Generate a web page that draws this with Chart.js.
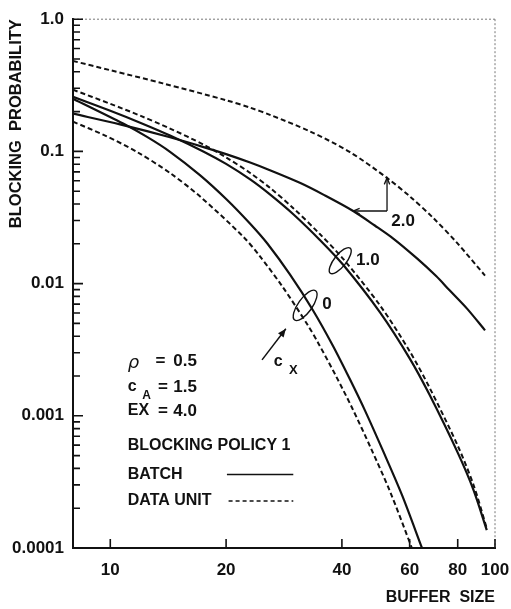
<!DOCTYPE html>
<html>
<head>
<meta charset="utf-8">
<script src="https://cdn.jsdelivr.net/npm/chart.js@4.4.1/dist/chart.umd.min.js"></script>
<style>
  html, body { margin: 0; padding: 0; background: #fff; }
  #wrap { width: 511px; height: 609px; }
</style>
</head>
<body>
<div id="wrap"><canvas id="chart"></canvas></div>
<script>
const xTicks = [10, 20, 40, 60, 80, 100];
const yTicks = [0.0001, 0.001, 0.01, 0.1, 1];
const yTickLabels = ['0.0001', '0.001', '0.01', '0.1', '1.0'];

// cx = 2.0
const unit20X = [8, 10, 13.7, 20, 23.1, 26, 33.1, 42, 52.4, 60.2, 69, 79.7, 94.2];
const unit20Y = [0.483, 0.4115, 0.327, 0.2439, 0.2142, 0.1891, 0.1414, 0.0986, 0.063, 0.0454, 0.0315, 0.0203, 0.0115];
const batch20X = [8, 10.6, 14.3, 17.4, 20, 23.1, 26, 31.2, 36.1, 42.8, 48.7, 54.4, 62.7, 70.3, 76.2, 84.7, 94.2];
const batch20Y = [0.193, 0.16, 0.1279, 0.1083, 0.0953, 0.0823, 0.072, 0.0576, 0.0465, 0.0354, 0.0275, 0.0219, 0.0155, 0.0114, 0.0089, 0.00644, 0.00443];

// cx = 1.0
const unit10X = [8, 10, 12, 14.3, 17.5, 20, 23.1, 26, 30, 35, 40.3, 50.3, 60, 67.6, 80.1, 88, 95.2];
const unit10Y = [0.2925, 0.2292, 0.1856, 0.1489, 0.1123, 0.09, 0.0687, 0.053, 0.0369, 0.0238, 0.01539, 0.00681, 0.00308, 0.00163, 0.000589, 0.000298, 0.000141];
const batch10X = [8, 10, 12, 14.3, 17.5, 20, 23.1, 26, 30, 35, 40.3, 50.3, 60, 67.6, 80.1, 88, 95.2];
const batch10Y = [0.259, 0.203, 0.1643, 0.1319, 0.0995, 0.0804, 0.0614, 0.0473, 0.0332, 0.0215, 0.01387, 0.00603, 0.00272, 0.00144, 0.000522, 0.000273, 0.0001365];

// cx = 0
const unit0X = [8, 9.7, 11.75, 14.3, 17.1, 22.2, 24.5, 28.1, 32.5, 34.7, 38.6, 42.5, 47.6, 53.4, 60.8];
const unit0Y = [0.1679, 0.1317, 0.0988, 0.0686, 0.0457, 0.02253, 0.01607, 0.00938, 0.00493, 0.00356, 0.002, 0.00115, 0.000567, 0.000266, 0.0001];
const batch0X = [8, 10.8, 12.46, 14.3, 17.1, 20.1, 23.1, 25.6, 29.3, 33.6, 37.9, 42, 46, 51.2, 57.4, 64.6];
const batch0Y = [0.2503, 0.1624, 0.1287, 0.0993, 0.0662, 0.0431, 0.02835, 0.0201, 0.01173, 0.00632, 0.00339, 0.00188, 0.001085, 0.00054, 0.000249, 0.0001];

const FONT = '"Liberation Sans", Arial, sans-serif';
const INK = '#111';

function pts(xs, ys) {
  return xs.map((x, i) => ({x: x, y: ys[i]}));
}

function line(xs, ys, dashed) {
  return {
    data: pts(xs, ys),
    borderColor: INK,
    borderWidth: dashed ? 2 : 2.2,
    borderDash: dashed ? [5, 3] : [],
    pointRadius: 0,
    fill: false,
    tension: 0.3
  };
}

function arrow(ctx, x1, y1, x2, y2, size, filled) {
  const a = Math.atan2(y2 - y1, x2 - x1);
  ctx.beginPath();
  ctx.moveTo(x1, y1);
  ctx.lineTo(x2, y2);
  ctx.stroke();
  ctx.beginPath();
  ctx.moveTo(x2 - size * Math.cos(a - 0.4), y2 - size * Math.sin(a - 0.4));
  ctx.lineTo(x2, y2);
  ctx.lineTo(x2 - size * Math.cos(a + 0.4), y2 - size * Math.sin(a + 0.4));
  if (filled) { ctx.closePath(); ctx.fill(); } else ctx.stroke();
}

// ticks inside the frame, the labels and the callouts
const notes = {
  id: 'notes',
  afterDraw(chart) {
    const {ctx, chartArea: a, scales: {x, y}} = chart;
    const at = (xv, yv) => [x.getPixelForValue(xv), y.getPixelForValue(yv)];
    ctx.save();
    ctx.strokeStyle = INK;
    ctx.fillStyle = INK;

    // faint top and right edges
    ctx.lineWidth = 1;
    ctx.setLineDash([2, 2]);
    ctx.strokeStyle = '#777';
    ctx.beginPath();
    ctx.moveTo(a.left, a.top); ctx.lineTo(a.right, a.top);
    ctx.moveTo(a.right, a.top); ctx.lineTo(a.right, a.bottom);
    ctx.stroke();
    ctx.setLineDash([]);
    ctx.strokeStyle = INK;

    // y ticks, decades plus 2..9
    ctx.lineWidth = 1.6;
    ctx.beginPath();
    for (let d = -4; d <= 0; d++) {
      for (let m = 1; m <= 9; m++) {
        const v = m * Math.pow(10, d);
        if (v > 1.0001) break;
        const py = y.getPixelForValue(v);
        ctx.moveTo(a.left, py);
        ctx.lineTo(a.left + (m === 1 ? 10 : 7), py);
      }
    }
    xTicks.forEach(v => {
      const px = x.getPixelForValue(v);
      ctx.moveTo(px, a.bottom);
      ctx.lineTo(px, a.bottom - 9);
    });
    ctx.stroke();

    // cx = 2.0 bracket
    ctx.lineWidth = 1.3;
    const p1 = at(42.8, 0.0354), p2 = at(52.4, 0.0354), p3 = at(52.4, 0.063);
    arrow(ctx, p2[0], p2[1], p1[0], p1[1], 7, false);
    arrow(ctx, p2[0], p2[1], p3[0], p3[1], 7, false);

    // ellipses round the 1.0 and 0 pairs
    ctx.lineWidth = 1.4;
    let e = at(39.6, 0.0149);
    ctx.beginPath(); ctx.ellipse(e[0], e[1], 16, 6, -0.9, 0, Math.PI * 2); ctx.stroke();
    e = at(32.1, 0.00684);
    ctx.beginPath(); ctx.ellipse(e[0], e[1], 18, 7, -0.95, 0, Math.PI * 2); ctx.stroke();

    // cx arrow
    ctx.lineWidth = 1.5;
    const t = at(24.8, 0.00265), h = at(28.6, 0.00455);
    arrow(ctx, t[0], t[1], h[0], h[1], 9, true);

    ctx.textBaseline = 'middle';
    ctx.textAlign = 'center';
    ctx.font = 'bold 17px ' + FONT;
    let p = at(57.7, 0.0297); ctx.fillText('2.0', p[0], p[1]);
    p = at(46.7, 0.0149); ctx.fillText('1.0', p[0], p[1]);
    p = at(36.6, 0.007); ctx.fillText('0', p[0], p[1]);
    ctx.font = 'bold 16px ' + FONT;
    p = at(27.3, 0.00255); ctx.fillText('c', p[0], p[1]);
    ctx.font = 'bold 13px ' + FONT;
    p = at(29.9, 0.00222); ctx.fillText('X', p[0], p[1]);

    // parameter block
    ctx.textAlign = 'left';
    ctx.font = 'italic 18px "DejaVu Sans", sans-serif';
    p = at(11.1, 0.0026); ctx.fillText('\u03c1', p[0], p[1] + 2);
    ctx.font = 'bold 16px ' + FONT;
    p = at(11.1, 0.00165); ctx.fillText('c', p[0], p[1]);
    p = at(11.1, 0.00109); ctx.fillText('EX', p[0], p[1]);
    ctx.font = 'bold 12px ' + FONT;
    p = at(12.1, 0.00143); ctx.fillText('A', p[0], p[1]);
    ctx.font = 'bold 17px ' + FONT;
    p = at(13.1, 0.0026); ctx.fillText('=', p[0], p[1]);
    p = at(13.3, 0.00165); ctx.fillText('=', p[0], p[1]);
    p = at(13.3, 0.00109); ctx.fillText('=', p[0], p[1]);
    ctx.textAlign = 'right';
    p = at(16.8, 0.0026); ctx.fillText('0.5', p[0], p[1]);
    p = at(16.8, 0.00165); ctx.fillText('1.5', p[0], p[1]);
    p = at(16.8, 0.00109); ctx.fillText('4.0', p[0], p[1]);

    // legend
    ctx.textAlign = 'left';
    ctx.font = 'bold 16px ' + FONT;
    p = at(11.1, 0.0006); ctx.fillText('BLOCKING POLICY 1', p[0], p[1]);
    p = at(11.1, 0.00036); ctx.fillText('BATCH', p[0], p[1]);
    p = at(11.1, 0.000227); ctx.fillText('DATA UNIT', p[0], p[1]);
    const l1 = at(20.1, 0.00036), l2 = at(29.9, 0.00036);
    ctx.lineWidth = 1.6;
    ctx.beginPath(); ctx.moveTo(l1[0], l1[1]); ctx.lineTo(l2[0], l2[1]); ctx.stroke();
    const d1 = at(20.3, 0.000227), d2 = at(29.9, 0.000227);
    ctx.setLineDash([4, 3]);
    ctx.beginPath(); ctx.moveTo(d1[0], d1[1]); ctx.lineTo(d2[0], d2[1]); ctx.stroke();
    ctx.restore();
  }
};

const ctx = document.getElementById('chart').getContext('2d');

const chart = new Chart(ctx, {
  type: 'line',
  data: {
    datasets: [
      line(unit20X, unit20Y, true),
      line(batch20X, batch20Y, false),
      line(unit10X, unit10Y, true),
      line(batch10X, batch10Y, false),
      line(unit0X, unit0Y, true),
      line(batch0X, batch0Y, false)
    ]
  },
  options: {
    responsive: true,
    maintainAspectRatio: false,
    animation: false,
    layout: { padding: { top: 17, right: 16, bottom: 0, left: 0 } },
    plugins: { legend: { display: false }, tooltip: { enabled: false } },
    scales: {
      x: {
        type: 'logarithmic',
        min: 8,
        max: 100,
        afterBuildTicks: s => { s.ticks = xTicks.map(v => ({value: v})); },
        afterFit: s => { s.height = 61; s.paddingLeft = 0; s.paddingRight = 0; },
        grid: { display: false, drawTicks: false },
        border: { display: true, color: INK, width: 2 },
        ticks: {
          autoSkip: false,
          maxRotation: 0,
          padding: 12,
          color: INK,
          font: { family: FONT, size: 17, weight: 'bold' },
          callback: v => String(v)
        },
        title: {
          display: true,
          text: 'BUFFER  SIZE',
          align: 'end',
          color: INK,
          font: { family: FONT, size: 16, weight: 'bold' },
          padding: { top: 0, bottom: 2 }
        }
      },
      y: {
        type: 'logarithmic',
        min: 0.0001,
        max: 1,
        afterBuildTicks: s => { s.ticks = yTicks.map(v => ({value: v})); },
        afterFit: s => { s.width = 73; },
        grid: { display: false, drawTicks: false },
        border: { display: true, color: INK, width: 2 },
        ticks: {
          autoSkip: false,
          padding: 9,
          color: INK,
          font: { family: FONT, size: 17, weight: 'bold' },
          callback: v => yTickLabels[yTicks.indexOf(v)]
        },
        title: {
          display: true,
          text: 'BLOCKING  PROBABILITY',
          align: 'end',
          color: INK,
          font: { family: FONT, size: 16.5, weight: 'bold' },
          padding: { top: 7, bottom: 0 }
        }
      }
    }
  },
  plugins: [notes]
});
</script>
</body>
</html>
